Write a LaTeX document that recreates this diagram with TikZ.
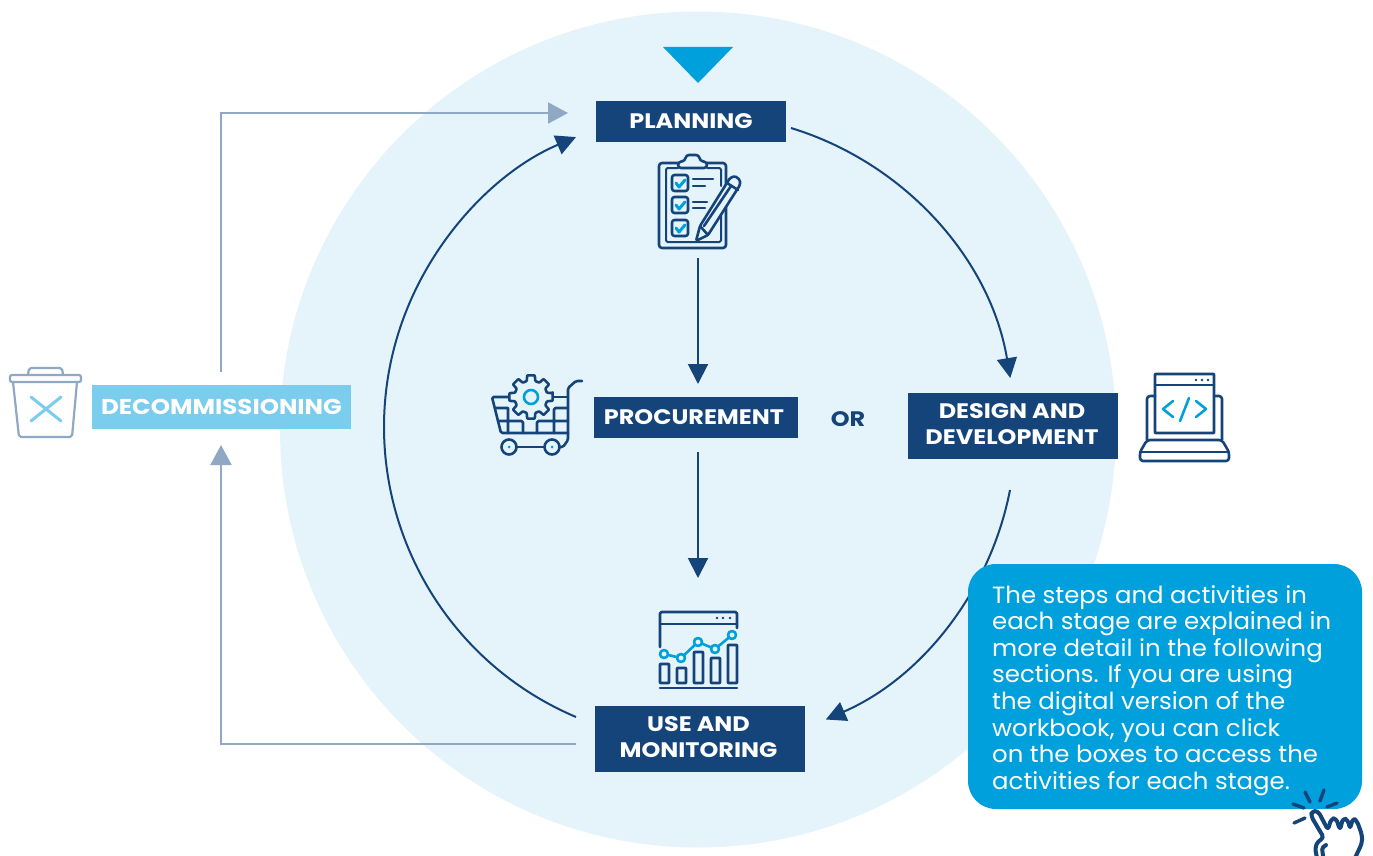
\documentclass[tikz,border=0pt]{standalone}
\usepackage{fontspec}
\setmainfont{Poppins}
\newfontfamily\lblfont[FakeStretch=1.14]{Poppins}
\newfontfamily\notefont[FakeStretch=1.038]{Poppins}
\usetikzlibrary{arrows.meta}
\definecolor{navy}{HTML}{14447A}
\definecolor{sky}{HTML}{00A0DC}
\definecolor{pale}{HTML}{E5F4FA}
\definecolor{lightsky}{HTML}{7BCDEE}
\definecolor{greyblue}{HTML}{8FA8C4}
\newcommand{\twolines}[2]{\raisebox{1pt}{\begin{tabular}{@{}c@{}}#1\\#2\end{tabular}}}
\tikzset{
  x=1pt,y=-1pt,
  stagebox/.style={fill=navy,text=white,font=\lblfont\bfseries\fontsize{21}{26}\selectfont,align=center,inner sep=0pt,anchor=center},
  decombox/.style={stagebox,fill=lightsky},
  flow/.style={navy,line width=2pt,-{Triangle[length=20pt,width=20pt]}},
  retflow/.style={greyblue,line width=2pt,-{Triangle[length=20pt,width=21pt]}},
  icon/.style={navy,line width=2.6pt,line cap=round,line join=round,rounded corners=1.5pt},
  iconb/.style={sky,line width=2.6pt,line cap=round,line join=round},
  tico/.style={greyblue,line width=2.2pt,line join=round,rounded corners=2pt},
}
\begin{document}
\begin{tikzpicture}
\useasboundingbox (0,0) rectangle (1373,856);
\fill[white] (0,0) rectangle (1373,856);
\node[circle,fill=pale,minimum size=836pt,inner sep=0pt] (disc) at (698,429.5) {};
\fill[sky] (663,47) -- (733,47) -- (698,83) -- cycle;

% stages
\node[stagebox,minimum width=190pt,minimum height=41pt] (planning) at (691,121.5) {\raisebox{-1pt}{PLANNING}};
\node[stagebox,minimum width=204pt,minimum height=41pt] (procurement) at (696,417.5) {\hspace*{-4pt}\raisebox{-1pt}{PROCUREMENT}};
\node[stagebox,minimum width=210pt,minimum height=66pt] (design) at (1013,426) {\hspace*{-2pt}\twolines{DESIGN AND}{DEVELOPMENT}};
\node[stagebox,minimum width=210pt,minimum height=66pt] (use) at (700,739) {\hspace*{-3pt}\twolines{USE AND}{MONITORING}};
\node[decombox,minimum width=259pt,minimum height=44pt,font=\lblfont\bfseries\fontsize{21.5}{26}\selectfont] (decom) at (221.5,407) {\raisebox{-2pt}{DECOMMISSIONING}};
\node[text=navy,font=\lblfont\bfseries\fontsize{21}{24}\selectfont,inner sep=0pt] (or) at (848,419) {OR};

% connector ends
\coordinate (pa) at (791,128);
\coordinate (da) at (1010,490);
\coordinate (ua) at (576,717);
\coordinate (p1) at (698,258);
\coordinate (p2) at (698,384);
\coordinate (p3) at (698,452);
\coordinate (p4) at (698,578);
\coordinate (r1) at (221,372);
\coordinate (r2) at (221,113);
\coordinate (r3) at (568,113);
\coordinate (r4) at (576,744);
\coordinate (r5) at (221,744);
\coordinate (r6) at (221,445);

\draw[flow] (pa) arc[start angle=73,end angle=9.5,radius=316pt];
\draw[flow] (da) arc[start angle=-11,end angle=-66.5,radius=316pt];
\draw[flow] (ua) arc[start angle=247,end angle=113,radius=315pt];
\draw[flow] (p1) -- (p2);
\draw[flow] (p3) -- (p4);
\draw[retflow] (r1) -- (r2) -- (r3);
\draw[retflow] (r4) -- (r5) -- (r6);

% callout
\node[fill=sky,rounded corners=28pt,minimum width=394pt,minimum height=245pt,inner sep=0pt] (note) at (1165,686.5) {};
\node[anchor=north west,inner sep=0pt,text=white,align=left,font=\notefont\fontsize{23.5}{26.6}\selectfont] (notetext) at (992,585) {The steps and activities in\\each stage are explained in\\more detail in the following\\sections. If you are using\\the digital version of the\\workbook, you can click\\on the boxes to access the\\activities for each stage.};

% clipboard icon
\draw[icon,rounded corners=3pt] (678,163) -- (659,163) -- (659,248) -- (726,248) -- (726,163) -- (707,163);
\draw[icon,line width=2pt] (678,168) -- (666,168) -- (666,242) -- (721,242) -- (721,215);
\draw[icon,line width=2pt] (707,168) -- (721,168) -- (721,186);
\draw[icon,rounded corners=3pt] (678,168) -- (678,162) -- (685,161) -- (686,155) -- (699,155) -- (700,161) -- (707,162) -- (707,168) -- cycle;
\foreach \yy in {175,197,220}{
  \draw[icon,rounded corners=2.5pt] (672,\yy) rectangle (688,\yy+16);
  \draw[iconb,line width=3pt] (676,\yy+8) -- (679,\yy+12) -- (685,\yy+5);
}
\draw[icon] (693,179) -- (713,179) (693,186) -- (705,186) (693,202) -- (707,202) (693,208) -- (705,208);
\draw[icon,fill=pale] (696,241) -- (700,226) -- (730,178) -- (735,176) -- (740,180) -- (740,185) -- (708,235) -- cycle;
\draw[icon] (727,183) -- (738,190) (704,226) -- (731,186) (700,226) -- (708,235);

% cart icon
\draw[icon] (582,381) -- (576,381) -- (568,388) -- (568,440) -- (563,447) -- (559,447);
\draw[icon] (510,397) -- (492,397) -- (501,433) -- (568,433);
\draw[icon] (552,397) -- (568,397);
\draw[icon] (496,408) -- (508,408) (498,421) -- (523,421) -- (523,433) (508,408) -- (508,433) (537,433) -- (537,421) -- (568,421) (554,433) -- (554,408) -- (568,408);
\draw[icon] (516,447) -- (545,447);
\draw[icon] (509,447) circle[radius=7.5pt] (552,447) circle[radius=7.5pt];
\fill[sky] (509,447) circle[radius=1.5pt] (552,447) circle[radius=1.5pt];
\begin{scope}[shift={(531,397)}]
  \draw[icon,fill=pale,rounded corners=0.8pt] (-10:22) \foreach \k in {0,...,7}{ -- (\k*45-10:22) -- (\k*45+10:22) -- (\k*45+15:16.5) -- (\k*45+30:16.5) } -- cycle;
  \draw[iconb] (0,0) circle[radius=7pt];
\end{scope}

% laptop icon
\draw[icon,rounded corners=3pt] (1155,396) -- (1147,396) -- (1147,440);
\draw[icon,rounded corners=3pt] (1214,396) -- (1222,396) -- (1222,440);
\draw[icon,rounded corners=0.5pt] (1155,374) rectangle (1214,433);
\draw[icon] (1155,385) -- (1214,385);
\fill[navy] (1196,380) circle[radius=1.4pt] (1202,380) circle[radius=1.4pt] (1208,380) circle[radius=1.4pt];
\draw[iconb] (1173,401) -- (1163,409) -- (1173,417) (1196,401) -- (1206,409) -- (1196,417) (1189,398) -- (1180,421);
\draw[icon,rounded corners=3pt] (1147,440) -- (1222,440) -- (1229,452) -- (1229,461) -- (1140,461) -- (1140,452) -- cycle;
\draw[icon] (1140,452) -- (1229,452);

% chart icon
\draw[icon] (660,647) -- (660,612) -- (737,612) -- (737,628);
\draw[icon] (660,624) -- (737,624);
\fill[navy] (717,618) circle[radius=1.4pt] (723,618) circle[radius=1.4pt] (730,618) circle[radius=1.4pt];
\draw[icon,rounded corners=0.5pt] (660,664) rectangle (669,683) (677,668) rectangle (686,683) (694,652) rectangle (703,683) (711,658) rectangle (720,683) (728,645) rectangle (737,683);
\draw[icon] (660,688) -- (737,688);
\draw[iconb,line join=miter] (664,654) -- (681,658) -- (698,642) -- (715,649) -- (732,635);
\foreach \cx/\cy in {664/654,681/658,698/642,715/649,732/635}
  \draw[iconb,fill=pale] (\cx,\cy) circle[radius=4pt];

% hand icon
\draw[icon,line width=3.4pt,rounded corners=0pt] (1305,792) -- (1310,802) (1324,790) -- (1320,801) (1337,803) -- (1327,807) (1293,804) -- (1304,808) (1294,823) -- (1305,818);
\draw[icon,line width=4pt,fill=white,rounded corners=3.5pt] (1317,858) -- (1315,848) -- (1318,841) -- (1324,838) -- (1311,816) -- (1312,811) -- (1318,811) -- (1328,830) -- (1331,819) -- (1336,818) -- (1340,830) -- (1343,818) -- (1348,820) -- (1350,829) -- (1353,818) -- (1357,821) -- (1362,835) -- (1362,843) -- (1355,858);
\draw[icon,line width=4pt] (1323,856) -- (1322,848) -- (1326,845);

% bin icon
\draw[tico] (28,375) -- (29,368) -- (62,368) -- (63,375);
\draw[tico,fill=white] (10,375) rectangle (81,382);
\draw[tico] (13,382) -- (19,437) -- (72,437) -- (77,382);
\draw[lightsky,line width=3pt,line cap=round] (31,397) -- (61,421) (61,397) -- (31,421);
\end{tikzpicture}
\end{document}
